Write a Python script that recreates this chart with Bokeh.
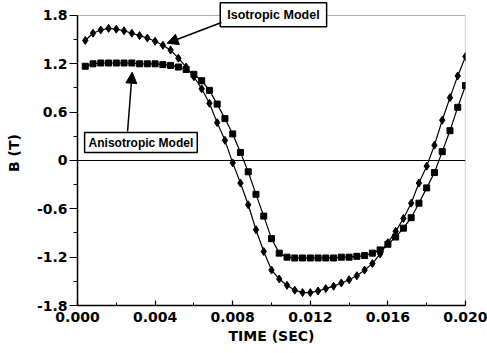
from bokeh.plotting import figure
from bokeh.models import (Range1d, FixedTicker, Span, Label, Arrow, NormalHead,
                          ColumnDataSource, BoxAnnotation)
from bokeh.embed import file_html
from bokeh.resources import INLINE

# ---- data ----
time_s = [0.0004, 0.0008, 0.0012, 0.0016, 0.0020, 0.0024, 0.0028, 0.0032, 0.0036, 0.0040,
          0.0044, 0.0048, 0.0052, 0.0056, 0.0060, 0.0064, 0.0068, 0.0072, 0.0076, 0.0080,
          0.0084, 0.0088, 0.0092, 0.0096, 0.0100, 0.0104, 0.0108, 0.0112, 0.0116, 0.0120,
          0.0124, 0.0128, 0.0132, 0.0136, 0.0140, 0.0144, 0.0148, 0.0152, 0.0156, 0.0160,
          0.0164, 0.0168, 0.0172, 0.0176, 0.0180, 0.0184, 0.0188, 0.0192, 0.0196, 0.0200]

isotropic_B = [1.49, 1.58, 1.62, 1.64, 1.63, 1.61, 1.58, 1.55, 1.52, 1.48,
               1.43, 1.37, 1.27, 1.16, 1.04, 0.89, 0.71, 0.47, 0.25, -0.03,
               -0.28, -0.55, -0.86, -1.13, -1.36, -1.47, -1.55, -1.61, -1.64, -1.64,
               -1.62, -1.59, -1.56, -1.52, -1.48, -1.43, -1.36, -1.28, -1.16, -1.02,
               -0.88, -0.72, -0.53, -0.28, -0.07, 0.19, 0.50, 0.78, 1.05, 1.29]

anisotropic_B = [1.17, 1.20, 1.21, 1.21, 1.21, 1.21, 1.21, 1.20, 1.20, 1.20,
                 1.19, 1.18, 1.16, 1.13, 1.07, 0.99, 0.87, 0.70, 0.52, 0.33,
                 0.10, -0.14, -0.42, -0.69, -0.97, -1.15, -1.20, -1.21, -1.21, -1.21,
                 -1.21, -1.21, -1.21, -1.20, -1.20, -1.19, -1.18, -1.15, -1.11, -1.04,
                 -0.95, -0.84, -0.71, -0.53, -0.34, -0.15, 0.11, 0.37, 0.66, 0.93]

x_ticks = [0.0, 0.004, 0.008, 0.012, 0.016, 0.020]
x_tick_labels = ["0.000", "0.004", "0.008", "0.012", "0.016", "0.020"]
x_minor = [0.002, 0.006, 0.010, 0.014, 0.018]
y_ticks = [-1.8, -1.2, -0.6, 0.0, 0.6, 1.2, 1.8]
y_tick_labels = ["-1.8", "-1.2", "-0.6", "0", "0.6", "1.2", "1.8"]
y_minor = [-1.5, -0.9, -0.3, 0.3, 0.9, 1.5]

X_MIN, X_MAX = 0.0, 0.020
Y_MIN, Y_MAX = -1.8, 1.8
Y_VIEW_TOP = 1.986   # headroom above the frame so the top label box is not clipped

FONT = "DejaVu Sans"

p = figure(width=487, height=353, output_backend="svg", toolbar_location=None,
           x_range=Range1d(X_MIN, X_MAX), y_range=Range1d(Y_MIN, Y_VIEW_TOP),
           min_border_left=77, min_border_right=22, min_border_top=0,
           min_border_bottom=48)
p.grid.visible = False
p.background_fill_color = "white"
p.border_fill_color = "white"
p.outline_line_color = None

# visible plot frame (box from the axis limits)
p.add_layout(BoxAnnotation(left=X_MIN, right=X_MAX, bottom=Y_MIN, top=Y_MAX,
                           fill_alpha=0, line_color="black", line_width=1.2))

src = ColumnDataSource(dict(t=time_s, iso=isotropic_B, ani=anisotropic_B))

# zero line
p.add_layout(Span(location=0, dimension="width", line_color="black", line_width=1))

p.line("t", "iso", source=src, line_color="black", line_width=1.2)
p.scatter("t", "iso", source=src, marker="diamond", size=8, fill_color="black",
          line_color="black")
p.line("t", "ani", source=src, line_color="black", line_width=1.2)
p.scatter("t", "ani", source=src, marker="square", size=6, fill_color="black",
          line_color="black")

# axes
xa = p.xaxis[0]
xa.ticker = FixedTicker(ticks=x_ticks, minor_ticks=x_minor)
xa.major_label_overrides = {t: l for t, l in zip(x_ticks, x_tick_labels)}
xa.axis_label = "TIME (SEC)"
xa.major_tick_in = 5
xa.major_tick_out = 0
xa.minor_tick_in = 3
xa.minor_tick_out = 0
xa.major_label_standoff = 6
xa.axis_label_standoff = 3

ya = p.yaxis[0]
ya.ticker = FixedTicker(ticks=y_ticks, minor_ticks=y_minor)
ya.major_label_overrides = {t: l for t, l in zip(y_ticks, y_tick_labels)}
ya.axis_label = "B (T)"
ya.bounds = (Y_MIN, Y_MAX)
ya.major_tick_in = 0
ya.major_tick_out = 8
ya.minor_tick_in = 0
ya.minor_tick_out = 4
ya.major_label_standoff = 2
ya.axis_label_standoff = 12

for ax in (xa, ya):
    ax.axis_line_color = "black"
    ax.axis_line_width = 1.5
    ax.major_tick_line_color = "black"
    ax.minor_tick_line_color = "black"
    ax.major_tick_line_width = 1.2
    ax.major_label_text_font = FONT
    ax.major_label_text_font_style = "bold"
    ax.major_label_text_font_size = "14px"
    ax.major_label_text_color = "black"
    ax.axis_label_text_font = FONT
    ax.axis_label_text_font_style = "bold"
    ax.axis_label_text_font_size = "14px"
    ax.axis_label_text_color = "black"

# annotations
for (tx, ty, txt, fs, pad) in [
        (0.0101, 1.81, "Isotropic Model", "12.5px",
         dict(left=7, right=7, top=5, bottom=5)),
        (0.00327, 0.223, "Anisotropic Model", "12px",
         dict(left=4, right=4, top=3, bottom=3))]:
    p.add_layout(Label(x=tx, y=ty, text=txt, text_align="center",
                       text_baseline="middle", text_font="Liberation Sans",
                       text_font_style="bold", text_font_size=fs,
                       text_color="black", background_fill_color="white",
                       border_line_color="black", border_line_width=1.5,
                       padding=pad))

for (x0, y0, x1, y1) in [(0.00742, 1.712, 0.00462, 1.455),
                         (0.00258, 0.36, 0.00282, 1.095)]:
    p.add_layout(Arrow(x_start=x0, y_start=y0, x_end=x1, y_end=y1,
                       line_color="black", line_width=1.5,
                       end=NormalHead(size=11, fill_color="black",
                                      line_color="black", line_width=1)))

open("out.html", "w").write(file_html(p, INLINE))
